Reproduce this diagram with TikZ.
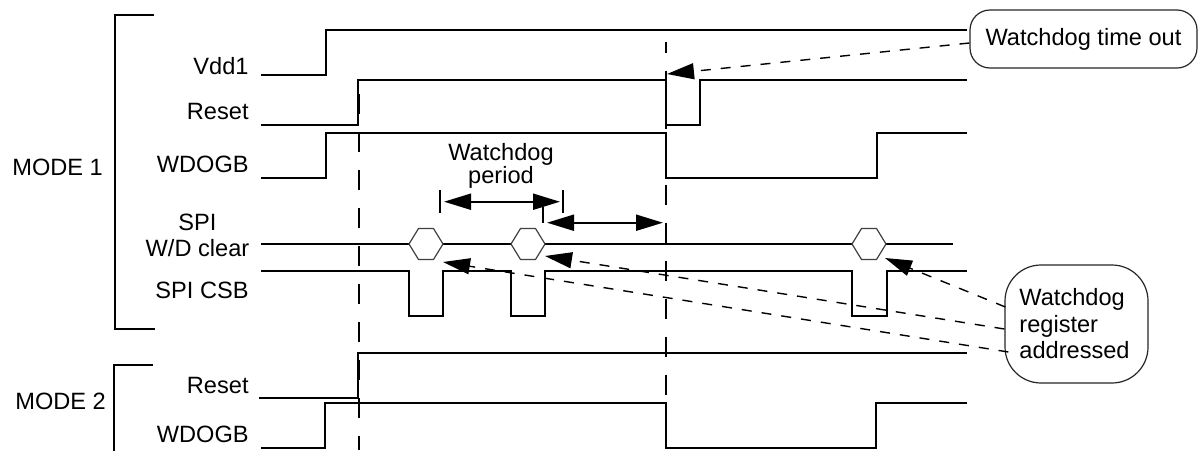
\documentclass[tikz,border=0pt]{standalone}
\usepackage{fontspec}
\setmainfont{Liberation Sans}
\usetikzlibrary{arrows.meta,calc}
\begin{document}
\begin{tikzpicture}[x=0.5pt,y=-0.5pt,
  sig/.style={line width=1pt, line join=miter, line cap=rect},
  lbl/.style={font=\fontsize{11.8}{14}\selectfont, inner sep=0pt},
  vdash/.style={line width=1pt, dash pattern=on 10pt off 9pt},
  hexa/.style={line width=0.6pt, draw=black!75},
  callout/.style={draw=black!85, line width=0.6pt, fill=white, inner sep=2pt, font=\fontsize{11.8}{14}\selectfont},
  dimarrow/.style={line width=1pt, {Triangle[length=13.5pt,width=8pt]}-{Triangle[length=13.5pt,width=8pt]}},
  ptr/.style={line width=0.7pt, dash pattern=on 5pt off 5pt, -{Triangle[length=13.5pt,width=8pt]}},
  hexpic/.pic={\draw[hexa] (-17,0) -- (-7.5,-15.5) -- (7.5,-15.5) -- (17,0) -- (7.5,15.5) -- (-7.5,15.5) -- cycle;}
]
\useasboundingbox (0,0) rectangle (1199,450);

% brackets and mode labels
\draw[sig, line cap=butt] (154,15) -- (115,15) -- (115,329) -- (155,329);
\draw[sig, line cap=butt] (153,365) -- (114,365) -- (114,451);
\node[lbl, anchor=base west] (m1) at (12,175) {MODE 1};
\node[lbl, anchor=base west] (m2) at (15,409) {MODE 2};

% signal labels
\node[lbl, anchor=base east] (lvdd) at (249,74) {Vdd1};
\node[lbl, anchor=base east] (lrst1) at (249,119.5) {Reset};
\node[lbl, anchor=base east] (lwd1) at (249,172.5) {WDOGB};
\node[lbl, anchor=base] (lspi) at (197.5,230) {SPI};
\node[lbl, anchor=base] (lwdc) at (197.5,256.7) {W/D clear};
\node[lbl, anchor=base east] (lcsb) at (249,298) {SPI CSB};
\node[lbl, anchor=base east] (lrst2) at (249,393) {Reset};
\node[lbl, anchor=base east] (lwd2) at (249,442.7) {WDOGB};

% vertical dashed markers
\draw[vdash] (359,94) -- (359,450);
\draw[vdash, dash phase=4.5pt] (666,41.7) -- (666,450);

% waveforms
\draw[sig] (262,75) -- (326,75) -- (326,30) -- (966,30);
\draw[sig] (262,125) -- (357.5,125) -- (357.5,80) -- (666,80) -- (666,125) -- (700,125) -- (700,80) -- (966,80);
\draw[sig] (262,178) -- (326,178) -- (326,133) -- (666,133) -- (666,178) -- (877,178) -- (877,133) -- (966,133);
\draw[sig] (262,244) -- (409,244) (443,244) -- (511,244) (545,244) -- (852,244) (886,244) -- (952,244);
\pic at (426,244) {hexpic};
\pic at (528,244) {hexpic};
\pic at (869,244) {hexpic};
\draw[sig] (262,271) -- (409,271) -- (409,316) -- (443,316) -- (443,271) -- (511,271) -- (511,316) -- (545,316) -- (545,271)
  -- (852,271) -- (852,316) -- (887,316) -- (887,271) -- (966,271);
\draw[sig] (260,398) -- (357.5,398) -- (357.5,353) -- (966,353);
\draw[sig] (262,448) -- (325,448) -- (325,403) -- (666,403) -- (666,448) -- (876,448) -- (876,403) -- (966,403);

% watchdog period dimensions
\draw[sig, line cap=butt] (440,190) -- (440,213);
\draw[sig, line cap=butt] (563,190) -- (563,213);
\draw[sig, line cap=butt] (543,207) -- (543,223);
\coordinate (p1a) at (444,201.7);
\coordinate (p1b) at (560,201.7);
\coordinate (p2a) at (547,222.7);
\coordinate (p2b) at (663,222.7);
\draw[dimarrow] (p1a) -- (p1b);
\draw[dimarrow] (p2a) -- (p2b);
\node[lbl, anchor=base] (wp1) at (501,160) {Watchdog};
\node[lbl, anchor=base] (wp2) at (501,183.3) {period};

% callouts
\node[callout, minimum width=113.5pt, minimum height=29pt, rounded corners=10pt] (wto) at (1083.5,39) {Watchdog time out};
\node[callout, minimum width=71.5pt, minimum height=59pt, rounded corners=18pt] (reg) at (1076.5,324) {};
\node[lbl, anchor=base west] (reg1) at (1019,305.5) {Watchdog};
\node[lbl, anchor=base west] (reg2) at (1019,332) {register};
\node[lbl, anchor=base west] (reg3) at (1019,358.5) {addressed};

\coordinate (trst) at (667,74);
\coordinate (th3) at (885,258);
\coordinate (th2) at (545,256);
\coordinate (th1) at (443,262);
\draw[ptr] ($(wto.west)+(0,4)$) -- (trst);
\draw[ptr] ($(reg.west)+(1,-17)$) -- (th3);
\draw[ptr] ($(reg.west)+(0,5)$) -- (th2);
\draw[ptr] ($(reg.west)+(4,28)$) -- (th1);
\end{tikzpicture}
\end{document}
